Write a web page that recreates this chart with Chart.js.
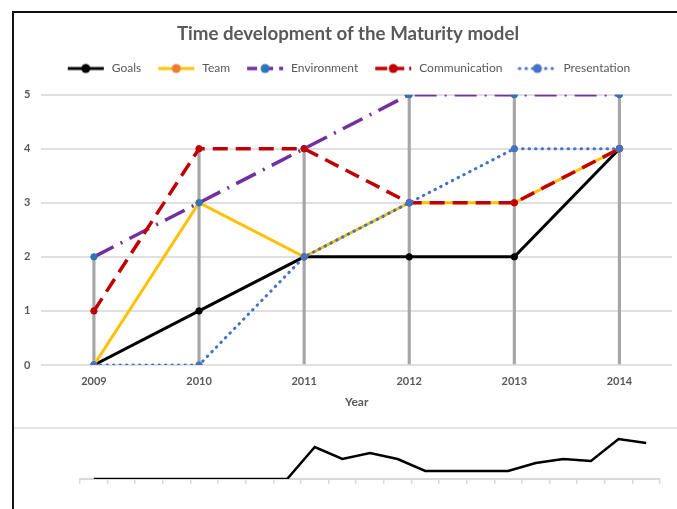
<!DOCTYPE html>
<html>
<head>
<meta charset="utf-8">
<script src="https://cdn.jsdelivr.net/npm/chart.js@4/dist/chart.umd.min.js"></script>
<style>
  html,body{margin:0;padding:0;background:#fff;width:677px;height:509px;overflow:hidden;}
  #frame{position:absolute;left:12px;top:11px;width:700px;height:600px;border-left:2px solid #111;border-top:2px solid #111;}
  #sep{position:absolute;left:14px;top:427px;width:670px;height:2px;background:#e4e4e4;}
  #mainChart{position:absolute;left:14px;top:13px;}
  #miniChart{position:absolute;left:14px;top:429px;}
</style>
</head>
<body>
<div id="frame"></div>
<canvas id="mainChart" width="663" height="414"></canvas>
<div id="sep"></div>
<canvas id="miniChart" width="663" height="80"></canvas>
<script>
/* ===== Data ===== */
const years = ["2009","2010","2011","2012","2013","2014"];
const goals = [0,1,2,2,2,4];
const team = [0,3,2,3,3,4];
const environment = [2,3,4,5,5,5];
const communication = [1,4,4,3,3,4];
const presentation = [0,0,2,3,4,4];
const yTicks = [0,1,2,3,4,5];

// small chart cut off at the bottom of the picture
const miniLabels = ["1","2","3","4","5","6","7","8","9","10","11","12","13","14","15","16","17","18","19","20","21"];
const miniValues = [0,0,0,0,0,0,0,0,32,20,26,20,8,8,8,8,16,20,18,40,36];

/* ===== Styles ===== */
const FONT = "Lato, 'Open Sans', sans-serif";
const TXT = "#595959";

const series = [
  {name:"Goals",         data:goals,         color:"#000000", marker:"#000000", dash:[],         cap:"butt",  width:3},
  {name:"Team",          data:team,          color:"#FFC000", marker:"#ED7D31", dash:[],         cap:"butt",  width:3},
  {name:"Environment",   data:environment,   color:"#7030A0", marker:"#2E75B6", dash:[22,8,2,8], cap:"butt",  width:3.5},
  {name:"Communication", data:communication, color:"#C00000", marker:"#C00000", dash:[15,8],     cap:"butt",  width:3.5},
  {name:"Presentation",  data:presentation,  color:"#4472C4", marker:"#4472C4", dash:[0.5,6],    cap:"round", width:3}
];
const legendDash = [[],[],[10,6],[12,5],[0.5,6]];

function legendIcon(s,i){
  const c = document.createElement("canvas");
  c.width = 40; c.height = 12;
  const g = c.getContext("2d");
  g.strokeStyle = s.color; g.lineWidth = s.width; g.lineCap = s.cap;
  g.setLineDash(legendDash[i]);
  g.beginPath(); g.moveTo(2,6); g.lineTo(38,6); g.stroke();
  g.setLineDash([]);
  g.fillStyle = s.marker;
  g.beginPath(); g.arc(20,6,4.5,0,Math.PI*2); g.fill();
  return c;
}
const icons = series.map(legendIcon);

// drop lines: from the highest series value down to the axis
const dropLines = years.map((_,i)=>Math.max(...series.map(s=>s.data[i])));

const datasets = series.map((s,i)=>({
  type:"line",
  label:s.name,
  data:s.data,
  borderColor:s.color,
  borderWidth:s.width,
  borderDash:s.dash,
  borderCapStyle:s.cap,
  pointRadius:3.2,
  pointBackgroundColor:s.marker,
  pointBorderColor:s.marker,
  pointBorderWidth:1,
  tension:0,
  order:5-i
}));
datasets.push({
  type:"bar",
  label:"drop",
  data:dropLines,
  backgroundColor:"#A6A6A6",
  barThickness:2.5,
  order:10
});

/* ===== Main chart ===== */
new Chart(document.getElementById("mainChart"),{
  type:"line",
  data:{labels:years,datasets},
  options:{
    responsive:false,
    animation:false,
    layout:{padding:{left:10,right:5,top:0,bottom:18}},
    plugins:{
      title:{
        display:true,
        text:"Time development of the Maturity model",
        color:TXT,
        font:{family:FONT,size:18.7,weight:"bold"},
        padding:{top:10,bottom:2}
      },
      subtitle:{
        display:true,
        text:"",
        weight:500,
        font:{size:1},
        padding:{top:9,bottom:0}
      },
      legend:{
        display:true,
        labels:{
          usePointStyle:true,
          pointStyleWidth:40,
          boxHeight:12,
          padding:15,
          color:TXT,
          font:{family:FONT,size:12},
          generateLabels:()=>series.map((s,i)=>({
            text:s.name,
            pointStyle:icons[i],
            fontColor:TXT,
            fillStyle:"transparent",
            strokeStyle:"transparent",
            lineWidth:0,
            hidden:false,
            datasetIndex:i
          }))
        }
      },
      tooltip:{enabled:false}
    },
    scales:{
      x:{
        offset:true,
        grid:{display:false,drawTicks:false},
        border:{display:false},
        ticks:{color:TXT,font:{family:FONT,size:11,weight:"bold"},padding:10},
        title:{display:true,text:"Year",color:TXT,font:{family:FONT,size:12,weight:"bold"},padding:{top:0,bottom:0}},
        afterFit:s=>{s.height = 44;}
      },
      y:{
        min:0,max:5,
        afterBuildTicks:s=>{s.ticks = yTicks.map(v=>({value:v}));},
        grid:{color:"#E0E0E0",lineWidth:2,drawTicks:false},
        border:{display:false},
        ticks:{color:TXT,font:{family:FONT,size:11,weight:"bold"},padding:5.5,crossAlign:"far"}
      }
    }
  }
});

/* ===== Mini chart below ===== */
new Chart(document.getElementById("miniChart"),{
  type:"line",
  data:{labels:miniLabels,datasets:[{
    data:miniValues,
    borderColor:"#000000",
    borderWidth:2.5,
    pointRadius:0,
    tension:0
  }]},
  options:{
    responsive:false,
    animation:false,
    layout:{padding:{left:66,right:17,top:0,bottom:0}},
    plugins:{legend:{display:false},tooltip:{enabled:false}},
    scales:{
      x:{
        offset:true,
        grid:{offset:true,drawOnChartArea:false,drawTicks:true,tickLength:5,color:"#D9D9D9",lineWidth:1.5},
        border:{color:"#D9D9D9",width:2},
        ticks:{display:false},
        afterFit:s=>{s.height = 30;}
      },
      y:{display:false,min:0,max:50}
    }
  }
});
</script>
</body>
</html>
